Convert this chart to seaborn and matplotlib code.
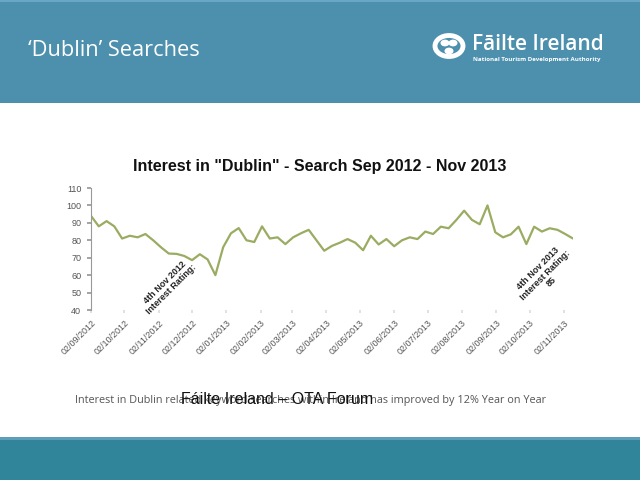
import matplotlib
matplotlib.use("Agg")
import matplotlib.pyplot as plt
import matplotlib.dates as mdates
from matplotlib.patches import Rectangle, Circle
import seaborn as sns
import pandas as pd

# ---- data ----
start_date = "2012-09-02"
interest = [94, 88, 91, 88, 81, 82.6, 81.7, 83.6, 80, 76,
            72.4, 72.2, 71, 68.6, 72, 69, 60, 76, 84, 87,
            80, 79, 88, 81, 81.7, 77.8, 81.7, 84, 86, 80,
            74, 76.8, 78.6, 80.7, 78.6, 74.3, 82.6, 77.6, 80.7, 76.6,
            80, 81.7, 80.7, 85, 83.6, 87.8, 86.9, 91.7, 97, 91.7,
            89.2, 100, 84.6, 81.7, 83.4, 87.8, 77.8, 87.8, 85, 86.9,
            86, 83.6, 81]
tick_dates = ["2012-09-02", "2012-10-02", "2012-11-02", "2012-12-02",
              "2013-01-02", "2013-02-02", "2013-03-02", "2013-04-02",
              "2013-05-02", "2013-06-02", "2013-07-02", "2013-08-02",
              "2013-09-02", "2013-10-02", "2013-11-02"]
y_ticks = [40, 50, 60, 70, 80, 90, 100, 110]

weeks = pd.date_range(start_date, periods=len(interest), freq="7D")
df = pd.DataFrame({"week": weeks, "interest": interest})

sns.set_theme(style="white")
plt.rcParams['font.family'] = ['Liberation Sans', 'DejaVu Sans']

fig = plt.figure(figsize=(6.4, 4.8), dpi=100)
fig.patch.set_facecolor("white")

W, H = 640, 480
def fx(x): return x / W
def fy(y): return 1 - y / H

# header band
fig.patches.append(Rectangle((0, fy(103)), 1, 103 / H, transform=fig.transFigure,
                             facecolor="#4d90ae", edgecolor="none", zorder=0))
fig.patches.append(Rectangle((0, fy(2)), 1, 2 / H, transform=fig.transFigure,
                             facecolor="#6aa7c4", edgecolor="none", zorder=0))
fig.text(fx(28), fy(50), "\u2018Dublin\u2019 Searches", color="white", fontsize=15.7,
         family=["Open Sans", "DejaVu Sans"], va="center", ha="left")

# logo
fig.patches.append(Circle((fx(449), fy(46)), 14 / W, transform=fig.transFigure,
                          facecolor="none", edgecolor="white", linewidth=3.5, zorder=2))
for dx, dy in [(-4, -3), (4, -3), (0, 5)]:
    fig.patches.append(Circle((fx(449 + dx), fy(46 + dy)), 4.5 / W, transform=fig.transFigure,
                              facecolor="white", edgecolor="none", zorder=2))
fig.text(fx(472), fy(45), "F\u0101ilte Ireland", color="white", fontsize=15,
         fontweight="semibold", family=["Open Sans", "DejaVu Sans"], va="center", ha="left")
fig.text(fx(473), fy(60), "National Tourism Development Authority", color="white",
         fontsize=4.4, fontweight="bold", family=["Open Sans", "DejaVu Sans"],
         va="center", ha="left")

# footer band
fig.patches.append(Rectangle((0, 0), 1, 43 / H, transform=fig.transFigure,
                             facecolor="#31859b", edgecolor="none", zorder=0))
fig.patches.append(Rectangle((0, fy(440)), 1, 3 / H, transform=fig.transFigure,
                             facecolor="#5c9db8", edgecolor="none", zorder=0))

# chart
ax = fig.add_axes([fx(91), fy(310), (573 - 91) / W, (310 - 188) / H])
sns.lineplot(data=df, x="week", y="interest", ax=ax, color="#9aab62", linewidth=1.6)
ax.set_xlim(weeks[0], weeks[-1])
ax.set_ylim(40, 110)
ax.set_yticks(y_ticks)
ax.set_yticklabels([str(v) for v in y_ticks], fontsize=6.5, color="#555555")
ax.set_xticks(pd.to_datetime(tick_dates))
ax.xaxis.set_major_formatter(mdates.DateFormatter("%d/%m/%Y"))
for lab in ax.get_xticklabels():
    lab.set_rotation(45)
    lab.set_ha("right")
    lab.set_rotation_mode("anchor")
    lab.set_fontsize(6.5)
    lab.set_color("#555555")
ax.set_xlabel("")
ax.set_ylabel("")
for s in ["top", "right", "bottom"]:
    ax.spines[s].set_visible(False)
ax.spines["left"].set_color("#999999")
ax.spines["left"].set_linewidth(0.8)
ax.tick_params(axis="y", left=True, length=3, color="#999999", pad=4)
ax.tick_params(axis="x", bottom=True, length=2, color="#dddddd", pad=4)
ax.grid(False)
ax.set_facecolor("none")

fig.text(0.5, fy(167), "Interest in \"Dublin\" - Search Sep 2012 - Nov 2013",
         fontsize=11.5, fontweight="bold", ha="center", va="center", color="#111111")

fig.text(fx(168), fy(286), "4th Nov 2012\nInterest Rating:", rotation=45,
         fontsize=6.5, fontweight="bold", ha="center", va="center", color="#222222",
         multialignment="center", linespacing=1.1)
fig.text(fx(545), fy(275), "4th Nov 2013\nInterest Rating:\n85", rotation=45,
         fontsize=6.5, fontweight="bold", ha="center", va="center", color="#222222",
         multialignment="center", linespacing=1.1)

fig.text(fx(75), fy(400),
         "Interest in Dublin related keyword searches within Ireland has improved by 12% Year on Year",
         fontsize=7.85, color="#555555", family=["Open Sans", "DejaVu Sans"],
         ha="left", va="center")
fig.text(fx(277), fy(399), "F\u00e1ilte Ireland \u2013 OTA Forum", fontsize=11.5,
         color="#111111", ha="center", va="center")

fig.savefig("out.png", dpi=100)
